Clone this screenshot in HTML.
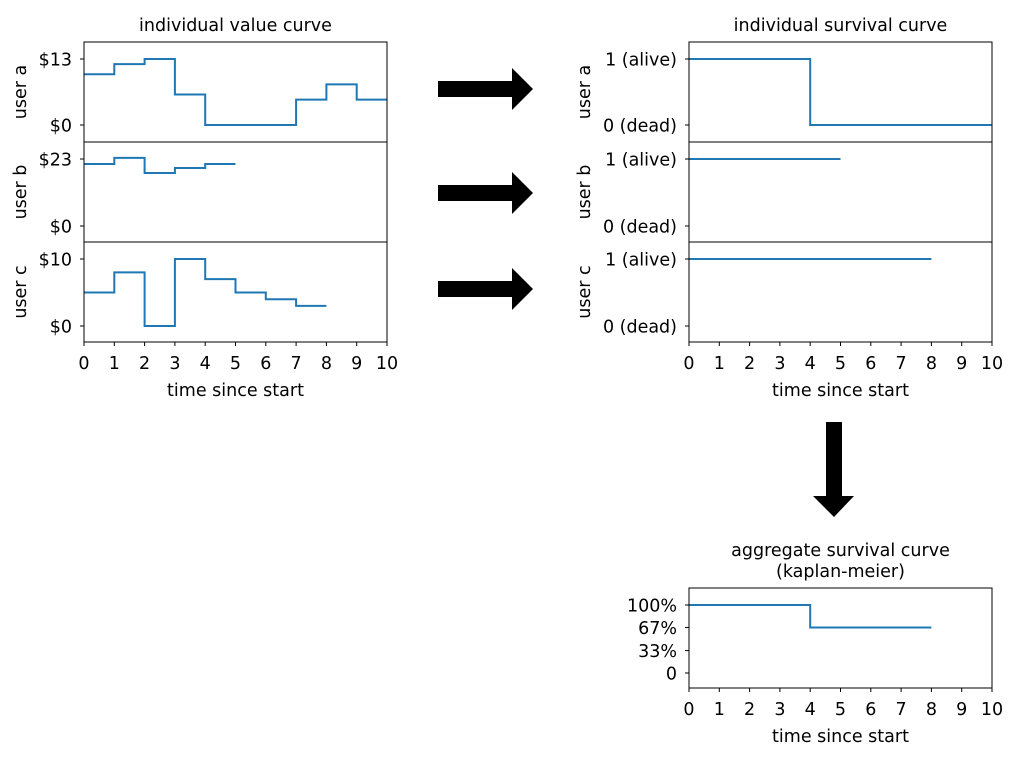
<!DOCTYPE html>
<html><head><meta charset="utf-8"><style>
body{margin:0;background:#fff;}
svg{display:block;font-family:"DejaVu Sans","Liberation Sans",sans-serif;}
text{fill:#000;}
</style></head><body>
<svg id="c" width="1024" height="763" xmlns="http://www.w3.org/2000/svg"></svg>
<script>
const times = [0,1,2,3,4,5,6,7,8,9,10];
const valueA = [10,12,13,6,0,0,0,5,8,5];
const valueB = [21.3,23.4,18.2,19.9,21.3];
const valueC = [5,8,0,10,7,5,4,3];
const survA = [1,1,1,1,0,0,0,0,0,0];
const survB = [1,1,1,1,1];
const survC = [1,1,1,1,1,1,1,1];
const kmValues = [1,1,1,1,0.67,0.67,0.67,0.67];
const kmTicks = [1,0.67,0.33,0];
const kmTickLabels = ['100%','67%','33%','0'];

const svg = document.getElementById('c');
const NS = 'http://www.w3.org/2000/svg';
function mk(tag, attrs, parent){const e=document.createElementNS(NS,tag);for(const k in attrs)e.setAttribute(k,attrs[k]);(parent||svg).appendChild(e);return e;}
function txt(s,x,y,anchor,parent,rot){const t=mk('text',{x:x,y:y,'font-size':17.5,'text-anchor':anchor||'middle'},parent);if(rot)t.setAttribute('transform','rotate(-90 '+x+' '+y+')');t.textContent=s;return t;}

function panel(name,x0,y0,w,h,yTop,yTopVal,yZero,tickVals,tickLabels,vals,xaxis,title){
  const g=mk('g',{});
  
  
  const xs=v=>x0+v*w/10;
  const ys=v=>yZero-(v/yTopVal)*(yZero-yTop);
  let d='';
  vals.forEach((v,i)=>{const y=ys(v);d+=(i===0?'M':'L')+xs(i)+','+y+' L'+xs(i+1)+','+y+' ';});
  const p=mk('path',{d:d,fill:'none',stroke:'#1f77b4','stroke-width':2},g);
  
  
  mk('rect',{x:x0,y:y0,width:w,height:h,fill:'none',stroke:'#000','stroke-width':1},g);
  tickVals.forEach((v,i)=>{const y=ys(v);mk('line',{x1:x0-4,x2:x0,y1:y,y2:y,stroke:'#000'},g);
    const t=txt(tickLabels[i],x0-12,y+6.5,'end',g);});
  if(xaxis){times.forEach(tv=>{const x=xs(tv);mk('line',{x1:x,x2:x,y1:y0+h,y2:y0+h+4,stroke:'#000'},g);txt(String(tv),x,y0+h+27,'middle',g);});
    const t=txt('time since start',x0+w/2,y0+h+54,'middle',g);}
  if(title){title.forEach((s,i)=>txt(s,x0+w/2,y0-11-(title.length-1-i)*21,'middle',g));}
}
panel('value-user-a',84,42,303,100,59,13,125,[13,0],['$13','$0'],valueA,false,['individual value curve']);
panel('value-user-b',84,142,303,100,159,23,226,[23,0],['$23','$0'],valueB,false,null);
panel('value-user-c',84,242,303,100,259,10,326,[10,0],['$10','$0'],valueC,true,null);
panel('survival-user-a',689,42,303,100,59,1,125,[1,0],['1 (alive)','0 (dead)'],survA,false,['individual survival curve']);
panel('survival-user-b',689,142,303,100,159,1,226,[1,0],['1 (alive)','0 (dead)'],survB,false,null);
panel('survival-user-c',689,242,303,100,259,1,326,[1,0],['1 (alive)','0 (dead)'],survC,true,null);
panel('kaplan-meier',689,588,303,100,605,1,673,kmTicks,kmTickLabels,kmValues,true,['aggregate survival curve','(kaplan-meier)']);
[['user a',92],['user b',192],['user c',292]].forEach(([s,y])=>{txt(s,26,y,'middle',svg,true);txt(s,590,y,'middle',svg,true);});
[89,193,289].forEach(y=>{const a=mk('polygon',{points:`438,${y-8} 512,${y-8} 512,${y-21} 533,${y} 512,${y+21} 512,${y+8} 438,${y+8}`,fill:'#000'});
  });
const va=mk('polygon',{points:'826,422 842,422 842,496 854,496 834,517 813,496 826,496',fill:'#000'});

</script>
</body></html>
